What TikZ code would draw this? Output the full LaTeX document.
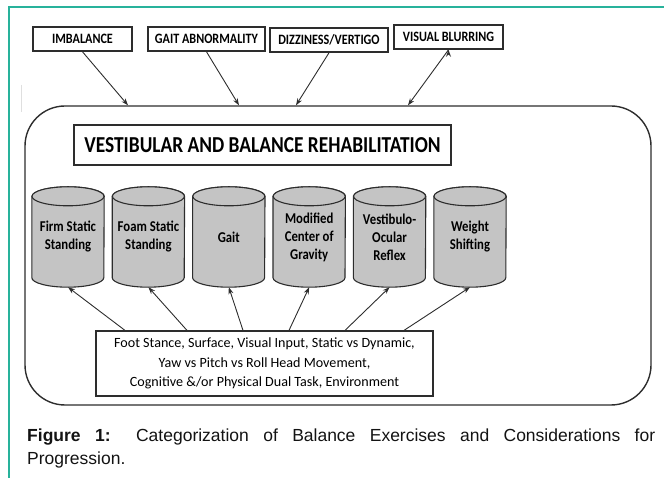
\documentclass[tikz,border=0pt]{standalone}
\usepackage{fontspec}
\setmainfont{Liberation Sans}
\newfontfamily\calib{Carlito}[FakeStretch=0.85]
\newfontfamily\calibn{Carlito}
\usepackage{tikz}
\usetikzlibrary{positioning,arrows.meta,backgrounds}
\definecolor{frameteal}{RGB}{40,178,155}
\definecolor{linegray}{RGB}{45,45,45}
\definecolor{cylgray}{RGB}{196,196,196}

\begin{document}
\begin{tikzpicture}
                [x=1pt,y=1pt,
                symptom/.style={rectangle,draw=linegray,line width=1.6pt,inner sep=0pt,minimum height=24pt,
                  font=\calib\bfseries\fontsize{14.3}{17}\selectfont},
                cyl/.style={rectangle,inner sep=0pt,minimum width=72pt,minimum height=100pt,align=center,
                  font=\calib\bfseries\fontsize{15}{18}\selectfont},
                cylbody/.style={draw=linegray,line width=1.1pt,fill=cylgray},
                arr/.style={-{Stealth[length=7pt,width=5pt]},draw=linegray,line width=0.9pt}]
                \useasboundingbox (0,0) rectangle (664,478);
                % page frame
                \draw[frameteal,line width=1.2pt] (9,0) -- (9,471) -- (664,471);
                \draw[gray!25,line width=0.8pt] (21,393) -- (21,366);
                % symptoms
                \node[symptom,minimum width=99pt] (imb) at (82.5,439) {IMBALANCE};
                \node[symptom,minimum width=117pt] (gait) at (206.5,439) {GAIT ABNORMALITY};
                \node[symptom,minimum width=118pt] (dizzy) at (329,438) {DIZZINESS/VERTIGO};
                \node[symptom,minimum width=109pt] (blur) at (448.5,441) {VISUAL BLURRING};
                % rehabilitation frame
                \node[rectangle,draw=linegray,line width=1.4pt,rounded corners=40pt,
                  minimum width=626pt,minimum height=299pt] (rehab) at (338,222.5) {};
                \node[rectangle,draw=linegray,line width=1.4pt,minimum width=377pt,minimum height=40pt,
                  font=\calib\bfseries\fontsize{22.8}{26}\selectfont] (title) at (262.5,333)
                  {VESTIBULAR AND BALANCE REHABILITATION};
                % exercises
                \node[cyl] (c1) at (68,241) {Firm Static\\Standing};
                \node[cyl,right=8pt of c1] (c2) {Foam Static\\Standing};
                \node[cyl,right=8pt of c2] (c3) {Gait};
                \node[cyl,right=8pt of c3] (c4) {Modified\\Center of\\Gravity};
                \node[cyl,right=8pt of c4] (c5) {Vestibulo-\\Ocular\\Reflex};
                \node[cyl,right=8pt of c5] (c6) {Weight\\Shifting};
                \begin{scope}[on background layer]
                \foreach \i in {1,...,6}{
                  \filldraw[cylbody] ([yshift=-9.5pt]c\i.north west) -- ([yshift=9.5pt]c\i.south west)
                    arc[start angle=180,end angle=360,x radius=36pt,y radius=9.5pt]
                    -- ([yshift=-9.5pt]c\i.north east)
                    arc[start angle=0,end angle=180,x radius=36pt,y radius=9.5pt] -- cycle;
                  \filldraw[cylbody] ([yshift=-9.5pt]c\i.north) ellipse[x radius=36pt,y radius=9.5pt];
                }
                \end{scope}
                % progression factors
                \node[rectangle,draw=linegray,line width=1.2pt,minimum width=337pt,minimum height=65pt,
                  align=center,font=\calibn\fontsize{14.1}{19.5}\selectfont] (setup) at (264.5,114.5)
                  {Foot Stance, Surface, Visual Input, Static vs Dynamic,\\
                   Yaw vs Pitch vs Roll Head Movement,\\
                   Cognitive \&/or Physical Dual Task, Environment};
                \path[arr] (imb.south) edge ([xshift=-210pt]rehab.north)
                        (gait.south) edge ([xshift=-99pt]rehab.north)
                        (dizzy.south) edge ([xshift=-42pt]rehab.north)
                        (blur.south) edge ([xshift=70pt]rehab.north);
                \foreach \s/\c in {-139.5/c1,-77.5/c2,-21.5/c3,24.5/c4,80.5/c5,139.5/c6}
                  \draw[arr] ([xshift=\s pt]setup.north) -- (\c.south);
                % caption
                \node[anchor=base west,inner sep=0pt,text width=628pt,align=justify,text=gray!15!black,
                  font=\fontsize{17.5}{23}\selectfont] (caption) at (27,36)
                  {\hyphenpenalty=10000\relax\textbf{Figure 1:} Categorization of Balance Exercises and Considerations for \mbox{Progression.}};
            \end{tikzpicture}
\end{document}
